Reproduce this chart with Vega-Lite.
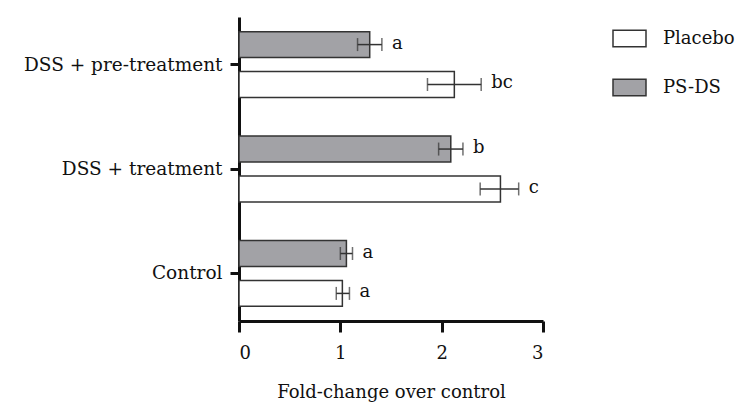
{
  "$schema": "https://vega.github.io/schema/vega-lite/v6.json",
  "width": 304,
  "height": 304,
  "autosize": {"type": "none"},
  "padding": {"left": 239, "top": 17, "right": 205, "bottom": 84},
  "background": "white",
  "data": {
    "values": [
      {"group": "DSS + pre-treatment", "treatment": "PS-DS", "mean": 1.29, "lo": 1.17, "hi": 1.41, "letter": "a"},
      {"group": "DSS + pre-treatment", "treatment": "Placebo", "mean": 2.125, "lo": 1.86, "hi": 2.39, "letter": "bc"},
      {"group": "DSS + treatment", "treatment": "PS-DS", "mean": 2.09, "lo": 1.97, "hi": 2.21, "letter": "b"},
      {"group": "DSS + treatment", "treatment": "Placebo", "mean": 2.58, "lo": 2.38, "hi": 2.76, "letter": "c"},
      {"group": "Control", "treatment": "PS-DS", "mean": 1.06, "lo": 1.0, "hi": 1.12, "letter": "a"},
      {"group": "Control", "treatment": "Placebo", "mean": 1.02, "lo": 0.96, "hi": 1.09, "letter": "a"}
    ]
  },
  "encoding": {
    "y": {
      "field": "group",
      "type": "nominal",
      "sort": ["DSS + pre-treatment", "DSS + treatment", "Control"],
      "scale": {"paddingInner": 0.37, "paddingOuter": 0.14},
      "axis": {
        "title": null,
        "labelFont": "DejaVu Serif",
        "labelFontSize": 18.5,
        "labelLimit": 400,
        "labelColor": "#111",
        "labelPadding": 8,
        "tickSize": 9,
        "tickWidth": 3,
        "tickColor": "#111",
        "domainWidth": 3,
        "domainColor": "#111"
      }
    },
    "yOffset": {
      "field": "treatment",
      "type": "nominal",
      "sort": ["PS-DS", "Placebo"],
      "scale": {"paddingInner": 0.35, "paddingOuter": 0}
    }
  },
  "layer": [
    {
      "mark": {"type": "bar", "stroke": "#333", "strokeWidth": 1.5},
      "encoding": {
        "x": {
          "field": "mean",
          "type": "quantitative",
          "scale": {"domain": [0, 3], "nice": false},
          "axis": {
            "values": [0, 1, 2, 3],
            "format": "d",
            "grid": false,
            "title": "Fold-change over control",
            "titleFont": "DejaVu Serif",
            "titleFontSize": 18,
            "titleFontWeight": "normal",
            "titleColor": "#111",
            "titlePadding": 21,
            "labelFont": "DejaVu Serif",
            "labelFontSize": 18,
            "labelColor": "#111",
            "labelPadding": 12,
            "tickSize": 11,
            "tickWidth": 3,
            "tickColor": "#111",
            "domainWidth": 3,
            "domainColor": "#111"
          }
        },
        "fill": {
          "field": "treatment",
          "type": "nominal",
          "scale": {"domain": ["Placebo", "PS-DS"], "range": ["#ffffff", "#a2a2a6"]},
          "legend": {
            "title": null,
            "orient": "none",
            "legendX": 373,
            "legendY": 4,
            "symbolType": "M-1,-0.5H1V0.5H-1Z",
            "symbolSize": 1089,
            "symbolStrokeColor": "#333",
            "symbolStrokeWidth": 1.5,
            "labelFont": "DejaVu Serif",
            "labelFontSize": 18,
            "labelColor": "#111",
            "labelOffset": 16,
            "rowPadding": 20
          }
        }
      }
    },
    {
      "mark": {"type": "rule", "color": "#333", "strokeWidth": 1.5},
      "encoding": {
        "x": {"field": "lo", "type": "quantitative"},
        "x2": {"field": "hi"}
      }
    },
    {
      "mark": {"type": "tick", "orient": "vertical", "color": "#333", "size": 13, "thickness": 1.5},
      "encoding": {
        "x": {"field": "lo", "type": "quantitative"}
      }
    },
    {
      "mark": {"type": "tick", "orient": "vertical", "color": "#333", "size": 13, "thickness": 1.5},
      "encoding": {
        "x": {"field": "hi", "type": "quantitative"}
      }
    },
    {
      "mark": {"type": "text", "align": "left", "baseline": "middle", "dx": 10, "dy": -1, "font": "DejaVu Serif", "fontSize": 18, "color": "#111"},
      "encoding": {
        "x": {"field": "hi", "type": "quantitative"},
        "text": {"field": "letter"}
      }
    }
  ],
  "config": {"view": {"stroke": null}}
}
